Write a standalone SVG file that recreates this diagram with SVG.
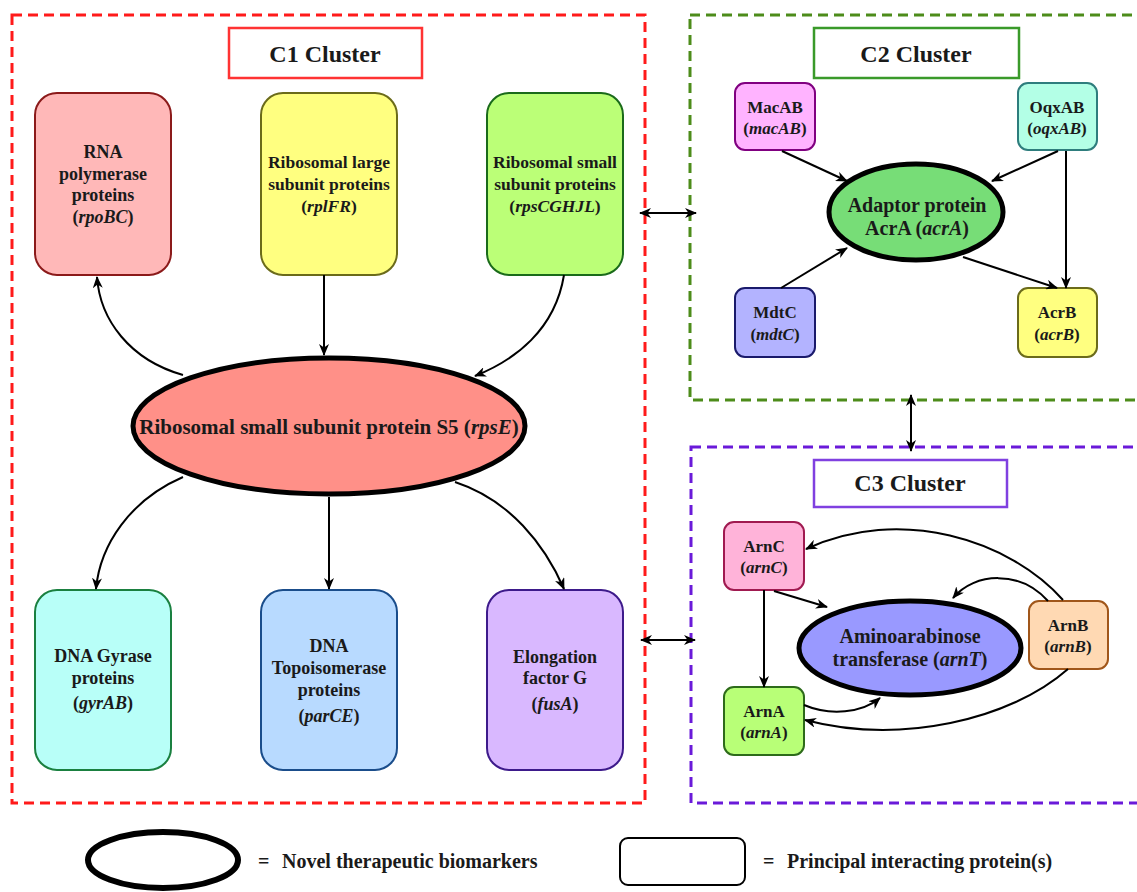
<svg xmlns="http://www.w3.org/2000/svg" width="1137" height="892" viewBox="0 0 1137 892">
<style>
text{font-family:"Liberation Serif","Times New Roman",serif;font-weight:bold;fill:#1a1a1a;text-anchor:middle}
.it{font-style:italic}
.t18{font-size:18px}
.t17{font-size:17px}
.t20{font-size:20px}
.lg{font-size:20px;text-anchor:start}
.title{font-size:24px}
.cl{fill:none;stroke-width:3;stroke-dasharray:10 6}
.tb{fill:#fff;stroke-width:2.5}
.big{stroke:#000;stroke-width:5}
.conn path,.conn line{fill:none;stroke:#000;stroke-width:2;marker-end:url(#ah)}
.conn .dbl{marker-start:url(#ah)}
</style>
<defs>
<marker id="ah" viewBox="0 0 12 10" refX="11" refY="5" markerWidth="12" markerHeight="10" orient="auto-start-reverse" markerUnits="userSpaceOnUse">
<path d="M0,0 L12,5 L0,10 L3.5,5 z" fill="#000"/>
</marker>
</defs>
<rect width="1137" height="892" fill="#fff"/>

<!-- clusters -->
<g id="c1-cluster">
<rect class="cl" x="12" y="15" width="633" height="788" stroke="#ff1a1a"/>
<rect class="tb" x="229" y="28" width="193" height="50" stroke="#ff3333"/>
<text class="title" x="325" y="62">C1 Cluster</text>
</g>
<g id="c2-cluster">
<rect class="cl" x="690" y="15" width="470" height="385" stroke="#4d8c1a"/>
<rect class="tb" x="814" y="28" width="205" height="50" stroke="#3a9a2a"/>
<text class="title" x="916" y="62">C2 Cluster</text>
</g>
<g id="c3-cluster">
<rect class="cl" x="691" y="447" width="470" height="356" stroke="#6a1ad9"/>
<rect class="tb" x="814" y="460" width="193" height="47" stroke="#8040e0"/>
<text class="title" x="910" y="491">C3 Cluster</text>
</g>

<!-- C1 nodes -->
<g id="rna">
<rect x="35" y="93" width="136" height="182" rx="22" fill="#ffb8b8" stroke="#8b1a1a" stroke-width="2"/>
<text class="t18" x="103" y="158">RNA</text>
<text class="t18" x="103" y="180">polymerase</text>
<text class="t18" x="103" y="201">proteins</text>
<text class="t18" x="103" y="223">(<tspan class="it">rpoBC</tspan>)</text>
</g>
<g id="rpl">
<rect x="261" y="93" width="136" height="182" rx="22" fill="#ffff80" stroke="#6b6b1a" stroke-width="2"/>
<text class="t18" x="329" y="168" style="font-size:17.5px">Ribosomal large</text>
<text class="t18" x="329" y="190" style="font-size:17.5px">subunit proteins</text>
<text class="t18" x="329" y="212" style="font-size:17.5px">(<tspan class="it">rplFR</tspan>)</text>
</g>
<g id="rps">
<rect x="487" y="93" width="136" height="182" rx="22" fill="#bbff77" stroke="#1a6b1a" stroke-width="2"/>
<text class="t18" x="555" y="168" style="font-size:17.5px">Ribosomal small</text>
<text class="t18" x="555" y="190" style="font-size:17.5px">subunit proteins</text>
<text class="t18" x="555" y="212" style="font-size:17.5px">(<tspan class="it">rpsCGHJL</tspan>)</text>
</g>
<g id="rpsE">
<ellipse cx="329" cy="426" rx="196" ry="68" fill="#ff9088" class="big"/>
<text x="329" y="434" style="font-size:21px">Ribosomal small subunit protein S5 (<tspan class="it">rpsE</tspan>)</text>
</g>
<g id="gyr">
<rect x="35" y="590" width="136" height="180" rx="22" fill="#b8fff8" stroke="#1a8040" stroke-width="2"/>
<text class="t18" x="103" y="662">DNA Gyrase</text>
<text class="t18" x="103" y="684">proteins</text>
<text class="t18" x="103" y="709">(<tspan class="it">gyrAB</tspan>)</text>
</g>
<g id="par">
<rect x="261" y="590" width="136" height="180" rx="22" fill="#b8daff" stroke="#1a4d8b" stroke-width="2"/>
<text class="t18" x="329" y="652">DNA</text>
<text class="t18" x="329" y="674">Topoisomerase</text>
<text class="t18" x="329" y="696">proteins</text>
<text class="t18" x="329" y="722">(<tspan class="it">parCE</tspan>)</text>
</g>
<g id="fus">
<rect x="487" y="590" width="136" height="180" rx="22" fill="#d9b8ff" stroke="#3d1a8b" stroke-width="2"/>
<text class="t18" x="555" y="663">Elongation</text>
<text class="t18" x="555" y="684">factor G</text>
<text class="t18" x="555" y="710">(<tspan class="it">fusA</tspan>)</text>
</g>

<!-- C2 nodes -->
<g id="macab">
<rect x="735" y="83" width="80" height="67" rx="10" fill="#ffb3ff" stroke="#800080" stroke-width="2"/>
<text class="t17" x="775" y="113">MacAB</text>
<text class="t17" x="775" y="134">(<tspan class="it">macAB</tspan>)</text>
</g>
<g id="oqxab">
<rect x="1018" y="83" width="79" height="67" rx="10" fill="#b3ffe6" stroke="#2e7d7d" stroke-width="2"/>
<text class="t17" x="1057" y="113">OqxAB</text>
<text class="t17" x="1057" y="134">(<tspan class="it">oqxAB</tspan>)</text>
</g>
<g id="acra">
<ellipse cx="916" cy="212" rx="87" ry="48" fill="#77dd77" class="big"/>
<text class="t20" x="917" y="212">Adaptor protein</text>
<text class="t20" x="917" y="235">AcrA (<tspan class="it">acrA</tspan>)</text>
</g>
<g id="mdtc">
<rect x="735" y="288" width="80" height="69" rx="10" fill="#b3b3ff" stroke="#1a1a6b" stroke-width="2"/>
<text class="t17" x="775" y="318">MdtC</text>
<text class="t17" x="775" y="340">(<tspan class="it">mdtC</tspan>)</text>
</g>
<g id="acrb">
<rect x="1018" y="288" width="79" height="69" rx="10" fill="#ffff80" stroke="#6b6b1a" stroke-width="2"/>
<text class="t17" x="1057" y="318">AcrB</text>
<text class="t17" x="1057" y="340">(<tspan class="it">acrB</tspan>)</text>
</g>

<!-- C3 nodes -->
<g id="arnc">
<rect x="724" y="522" width="80" height="68" rx="10" fill="#ffb3d9" stroke="#a01a50" stroke-width="2"/>
<text class="t17" x="764" y="552">ArnC</text>
<text class="t17" x="764" y="573">(<tspan class="it">arnC</tspan>)</text>
</g>
<g id="arna">
<rect x="724" y="687" width="80" height="68" rx="10" fill="#b8ff77" stroke="#2d6b1a" stroke-width="2"/>
<text class="t17" x="764" y="717">ArnA</text>
<text class="t17" x="764" y="738">(<tspan class="it">arnA</tspan>)</text>
</g>
<g id="arnb">
<rect x="1029" y="601" width="79" height="68" rx="10" fill="#ffd9b3" stroke="#a0561a" stroke-width="2"/>
<text class="t17" x="1068" y="631">ArnB</text>
<text class="t17" x="1068" y="652">(<tspan class="it">arnB</tspan>)</text>
</g>
<g id="arnt">
<ellipse cx="910" cy="648" rx="111" ry="47" fill="#9999ff" class="big"/>
<text class="t20" x="910" y="643">Aminoarabinose</text>
<text class="t20" x="910" y="666">transferase (<tspan class="it">arnT</tspan>)</text>
</g>

<!-- connectors -->
<g id="connectors" class="conn">
<path d="M183 375 C130 360 100 320 97 277"/>
<line x1="324" y1="275" x2="324" y2="355"/>
<path d="M564 275 C555 330 515 360 475 376"/>
<path d="M183 477 C130 500 100 545 96 589"/>
<line x1="329" y1="497" x2="329" y2="589"/>
<path d="M455 482 C510 500 545 545 564 589"/>
<line class="dbl" x1="640" y1="213" x2="696" y2="213"/>
<line class="dbl" x1="641" y1="640" x2="695" y2="640"/>
<line class="dbl" x1="911" y1="395" x2="911" y2="451"/>
<line x1="782" y1="151" x2="847" y2="181"/>
<line x1="1058" y1="151" x2="992" y2="181"/>
<line x1="1066" y1="151" x2="1066" y2="288"/>
<line x1="781" y1="288" x2="847" y2="248"/>
<line x1="963" y1="257" x2="1057" y2="288"/>
<line x1="764" y1="590" x2="764" y2="687"/>
<line x1="774" y1="591" x2="827" y2="607"/>
<path d="M1063 600 C1010 540 900 505 806 549"/>
<path d="M1048 601 C1020 570 975 572 953 598"/>
<path d="M804 705 C830 716 862 713 880 698"/>
<path d="M1068 669 C1010 720 900 745 805 720"/>
</g>

<!-- legend -->
<g id="legend-ellipse">
<ellipse cx="163" cy="860" rx="75" ry="28" fill="#fff" stroke="#000" stroke-width="6"/>
<text class="lg" x="258" y="868">=</text>
<text class="lg" x="282" y="868">Novel therapeutic biomarkers</text>
</g>
<g id="legend-rect">
<rect x="620" y="838" width="125" height="47" rx="8" fill="#fff" stroke="#000" stroke-width="2"/>
<text class="lg" x="763" y="868">=</text>
<text class="lg" x="787" y="868">Principal interacting protein(s)</text>
</g>
</svg>
